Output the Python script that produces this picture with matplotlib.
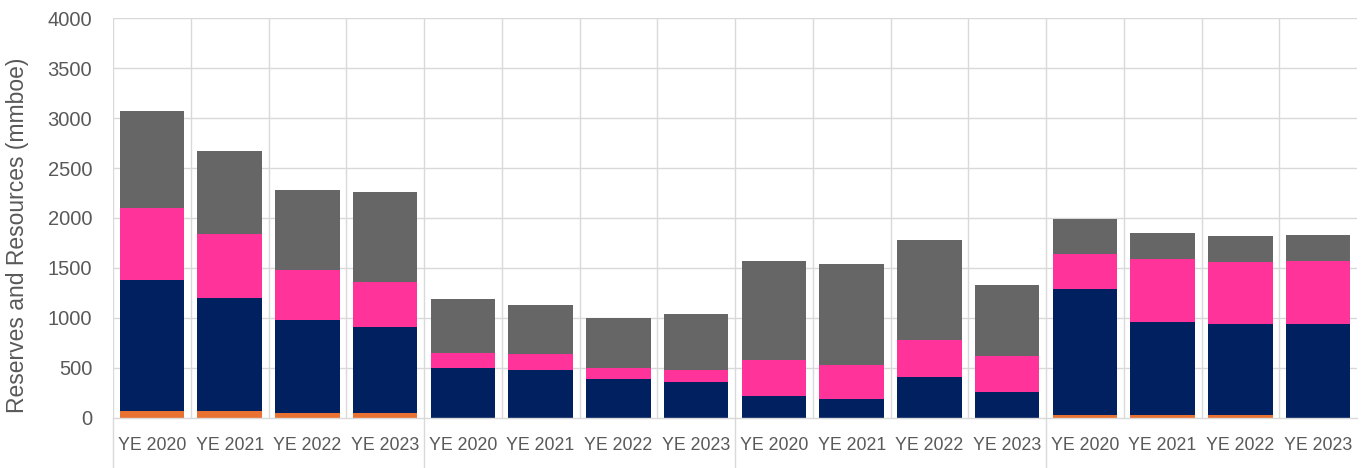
import matplotlib
matplotlib.use("Agg")
import matplotlib.pyplot as plt
import numpy as np
from matplotlib.lines import Line2D

categories = ["YE 2020", "YE 2021", "YE 2022", "YE 2023"] * 4

orange = [65, 65, 50, 50, 0, 0, 0, 0, 0, 0, 0, 0, 30, 30, 30, 0]
navy = [1310, 1135, 930, 855, 500, 475, 390, 355, 220, 190, 410, 260, 1260, 930, 910, 940]
pink = [725, 640, 500, 455, 145, 160, 110, 120, 360, 335, 365, 355, 350, 630, 620, 625]
grey = [975, 830, 800, 900, 540, 495, 495, 565, 990, 1010, 1000, 710, 345, 260, 260, 260]

y_ticks = [0, 500, 1000, 1500, 2000, 2500, 3000, 3500, 4000]
y_label = "Reserves and Resources (mmboe)"

plt.rcParams['font.family'] = ['Liberation Sans', 'DejaVu Sans']

fig = plt.figure(figsize=(13.7, 4.68), dpi=100)
ax = fig.add_axes([113/1370, 50.5/468, (1357-113)/1370, (417.5-18.3)/468])

x = np.arange(len(categories))
w = 0.83
series = [(orange, "#E97132"), (navy, "#002060"), (pink, "#FF3399"), (grey, "#666666")]
bottom = np.zeros(len(categories))
for vals, col in series:
    v = np.array(vals, dtype=float)
    ax.bar(x, v, w, bottom=bottom, color=col, edgecolor="none", zorder=3)
    bottom += v

ax.set_xlim(-0.5, len(categories) - 0.5)
ax.set_ylim(0, 4000)
ax.set_yticks(y_ticks)
ax.set_xticks(x)
ax.set_xticklabels(categories)

gc = "#d9d9d9"
for yt in y_ticks[1:]:
    ax.axhline(yt, color=gc, lw=1, zorder=1)
for b in np.arange(-0.5, len(categories), 1.0)[:-1]:
    ax.axvline(b, color=gc, lw=1, zorder=1)
# group separators extending below axis
trans = ax.get_xaxis_transform()
for b in [-0.5, 3.5, 7.5, 11.5]:
    ax.add_line(Line2D([b, b], [0, -0.2], transform=trans, color=gc, lw=1, clip_on=False))

for s in ["top", "right", "left"]:
    ax.spines[s].set_visible(False)
ax.spines["bottom"].set_color(gc)
ax.spines["bottom"].set_linewidth(1)
ax.spines["bottom"].set_zorder(4)

ax.tick_params(axis="both", length=0, colors="#595959")
ax.tick_params(axis="x", pad=14, labelsize=12.8)
ax.tick_params(axis="y", pad=15, labelsize=14.5)
fig.text(18/1370, (468-235)/468, y_label, rotation=90, ha="center", va="center",
         fontsize=16.5, color="#595959")

fig.savefig("out.png", dpi=100)
